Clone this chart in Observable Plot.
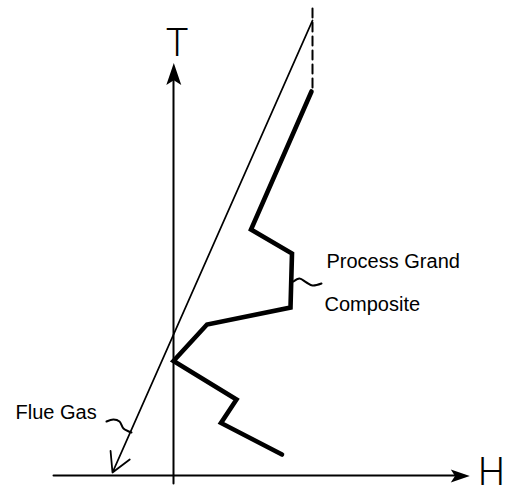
<!DOCTYPE html>
<html>
<head>
<meta charset="utf-8">
<script src="https://cdn.jsdelivr.net/npm/d3@7"></script>
<script src="https://cdn.jsdelivr.net/npm/@observablehq/plot@0.6"></script>
<style>
  html, body { margin: 0; padding: 0; background: #fff; }
  #chart svg { display: block; }
</style>
</head>
<body>
<div id="chart"></div>
<script>
// Data units: H (enthalpy, horizontal), T (temperature, vertical); origin at the axes crossing
const grandCompositeH = [138, 77.5, 118.5, 117, 33.5, 0, 63, 47.5, 108.5];
const grandCompositeT = [384, 246, 222, 168, 151, 114.5, 76, 52.5, 21];

const flueGas = {H1: 139, T1: 455, H2: -61, T2: 3};
const dashedH = [139, 139];
const dashedT = [467, 383];

const axisV = {H: [0, 0], T: [-8, 405]};
const axisHz = {H: [-120, 290], T: [0, 0]};
const arrowTips = [
  {H: 0.3, T: 412.5, rot: 0, len: 22},
  {H: 296.3, T: -0.5, rot: 90, len: 19}
];

const procSquiggleH = [120, 126, 133, 139, 148];
const procSquiggleT = [194, 197, 193, 190, 192];
const flueSquiggleH = [-67, -60, -54, -50, -42];
const flueSquiggleT = [54, 56, 54, 47, 43];

const labels = [
  {text: "Flue Gas", H: -158, T: 57},
  {text: "Process Grand", H: 153, T: 208},
  {text: "Composite", H: 151, T: 165}
];
const axisLabels = [
  {text: "T", H: 3.5, T: 420},
  {text: "H", H: 318, T: -9}
];

const gc = grandCompositeH.map((h, i) => ({H: h, T: grandCompositeT[i]}));
const dashed = dashedH.map((h, i) => ({H: h, T: dashedT[i]}));
const vAxis = axisV.H.map((h, i) => ({H: h, T: axisV.T[i]}));
const hAxis = axisHz.H.map((h, i) => ({H: h, T: axisHz.T[i]}));
const sqP = procSquiggleH.map((h, i) => ({H: h, T: procSquiggleT[i]}));
const sqF = flueSquiggleH.map((h, i) => ({H: h, T: flueSquiggleT[i]}));

// Filled, notched arrowhead; tip at the origin, pointing up
const headSymbol = (L) => ({
  draw(context) {
    context.moveTo(0, 0);
    context.lineTo(0.34 * L, L);
    context.lineTo(0, 0.78 * L);
    context.lineTo(-0.34 * L, L);
    context.closePath();
  }
});

const chart = Plot.plot({
  width: 506,
  height: 493,
  margin: 0,
  style: {background: "#fff"},
  x: {domain: [-173, 333], axis: null},
  y: {domain: [-18, 475], axis: null},
  marks: [
    Plot.line(vAxis, {x: "H", y: "T", stroke: "#000", strokeWidth: 2}),
    Plot.line(hAxis, {x: "H", y: "T", stroke: "#000", strokeWidth: 2}),
    Plot.dot([arrowTips[0]], {x: "H", y: "T", symbol: headSymbol(arrowTips[0].len), r: 10, fill: "#000", stroke: null, rotate: "rot"}),
    Plot.dot([arrowTips[1]], {x: "H", y: "T", symbol: headSymbol(arrowTips[1].len), r: 10, fill: "#000", stroke: null, rotate: "rot"}),
    Plot.line(dashed, {x: "H", y: "T", stroke: "#000", strokeWidth: 2, strokeDasharray: "9,5"}),
    Plot.arrow([flueGas], {x1: "H1", y1: "T1", x2: "H2", y2: "T2", stroke: "#000", strokeWidth: 1.8, headLength: 18, headAngle: 58}),
    Plot.line(gc, {x: "H", y: "T", stroke: "#000", strokeWidth: 4.6, strokeLinejoin: "miter", strokeMiterlimit: 10}),
    Plot.line(sqP, {x: "H", y: "T", stroke: "#000", strokeWidth: 2, curve: "catmull-rom"}),
    Plot.line(sqF, {x: "H", y: "T", stroke: "#000", strokeWidth: 2, curve: "catmull-rom"}),
    Plot.text(labels, {x: "H", y: "T", text: "text", textAnchor: "start", lineAnchor: "bottom", fontSize: 20, fill: "#000", fontFamily: "Liberation Sans, Arial, sans-serif"}),
    Plot.text(axisLabels, {x: "H", y: "T", text: "text", textAnchor: "middle", lineAnchor: "bottom", fontSize: 38, fontWeight: 300, fill: "#000", fontFamily: "Roboto, sans-serif"})
  ]
});
document.getElementById("chart").appendChild(chart);
</script>
</body>
</html>
